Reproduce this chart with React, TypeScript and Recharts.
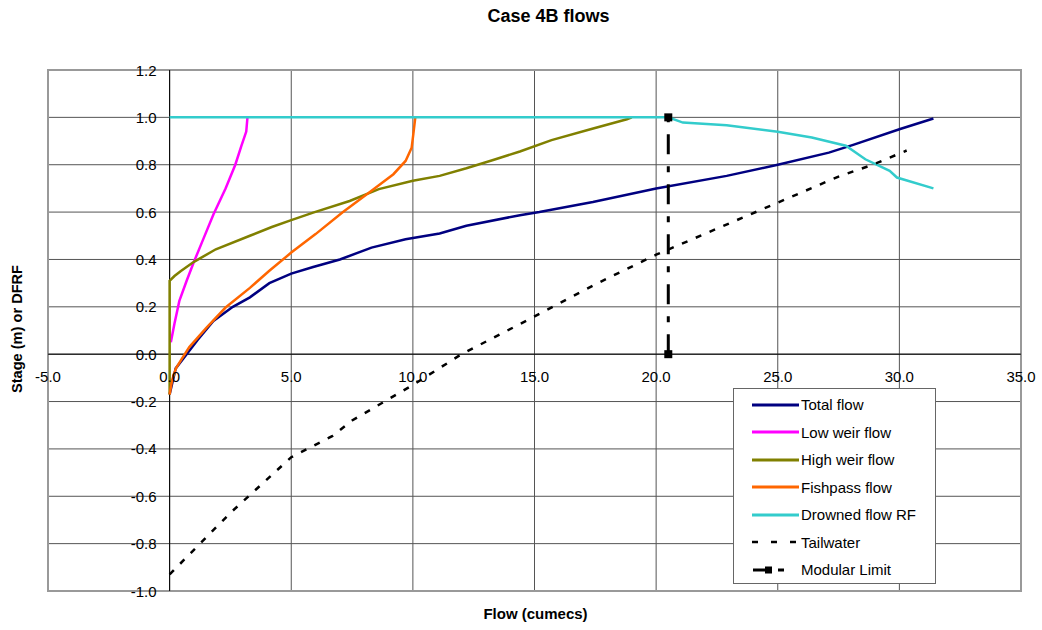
import React from 'react';
import {
  LineChart,
  Line,
  XAxis,
  YAxis,
  CartesianGrid,
  ReferenceLine,
  ReferenceArea,
  Legend,
} from 'recharts';

interface Pt {
  x: number;
  y: number;
}

const pts = (arr: number[][]): Pt[] => arr.map(([x, y]) => ({ x, y }));

const xTicks = [-5, 0, 5, 10, 15, 20, 25, 30, 35];
const yTicks = [-1.0, -0.8, -0.6, -0.4, -0.2, 0.0, 0.2, 0.4, 0.6, 0.8, 1.0, 1.2];

const totalFlow = pts([
  [0, -0.17], [0.25, -0.06], [0.85, 0.02], [1.15, 0.06], [1.8, 0.14], [2.6, 0.2],
  [3.3, 0.24], [4.1, 0.3], [5.0, 0.34], [5.9, 0.368], [7.0, 0.4], [8.3, 0.45],
  [9.7, 0.485], [11.1, 0.51], [12.2, 0.542], [14.4, 0.587], [15.2, 0.6],
  [17.4, 0.643], [20.0, 0.7], [22.9, 0.753], [25.0, 0.8], [27.1, 0.851],
  [28.1, 0.884], [30.0, 0.95], [31.4, 0.995],
]);

const lowWeir = pts([
  [0.05, 0.05], [0.2, 0.13], [0.4, 0.225], [0.7, 0.31], [1.0, 0.39], [1.4, 0.49],
  [1.8, 0.59], [2.3, 0.7], [2.7, 0.8], [2.95, 0.88], [3.15, 0.94], [3.2, 1.0],
]);

const highWeir = pts([
  [0, -0.17], [0, 0.31], [0.2, 0.33], [0.45, 0.35], [1.0, 0.39], [1.9, 0.443],
  [3.3, 0.5], [4.2, 0.537], [5.0, 0.566], [5.9, 0.598], [7.4, 0.647], [8.6, 0.697],
  [10.0, 0.732], [11.1, 0.753], [12.2, 0.785], [13.3, 0.82], [14.4, 0.856],
  [15.7, 0.904], [17.3, 0.95], [18.8, 0.992], [19.0, 1.0],
]);

const fishpass = pts([
  [0, -0.17], [0.1, -0.11], [0.26, -0.06], [0.5, -0.02], [0.81, 0.03], [1.5, 0.11],
  [2.3, 0.197], [3.3, 0.28], [4.1, 0.352], [5.0, 0.429], [6.0, 0.507], [7.1, 0.598],
  [8.3, 0.69], [9.2, 0.76], [9.7, 0.816], [9.95, 0.872], [10.02, 0.93], [10.1, 1.0],
]);

const drowned = pts([
  [0, 1.0], [20.5, 1.0], [21.1, 0.978], [22.9, 0.967], [25.0, 0.939], [26.4, 0.915],
  [27.8, 0.88], [28.6, 0.823], [29.6, 0.774], [29.9, 0.746], [31.4, 0.7],
]);

const tailwater = pts([
  [0, -0.93], [2.5, -0.67], [5.0, -0.435], [6.7, -0.345], [7.5, -0.28], [10.0, -0.13],
  [12.0, 0.0], [14.4, 0.127], [17.6, 0.3], [20.0, 0.42], [22.5, 0.53], [25.0, 0.64],
  [27.5, 0.75], [28.9, 0.8], [30.3, 0.86],
]);

const modularLimit = pts([[20.5, 0], [20.5, 1.0]]);

const FONT = '"Liberation Sans", Arial, sans-serif';

// plot geometry (px)
const W = 1042;
const H = 630;
const PL = 48;
const PT = 70;
const PW = 973;
const PH = 521;
const AX = 30; // space given to the (invisible) axes
const Y0 = PT + (PH * 1.2) / 2.2;
const X0 = PL + (PW * 5) / 40;

const legendItems = [
  { name: 'Total flow', color: '#000080', dash: '' },
  { name: 'Low weir flow', color: '#FF00FF', dash: '' },
  { name: 'High weir flow', color: '#808000', dash: '' },
  { name: 'Fishpass flow', color: '#FF6600', dash: '' },
  { name: 'Drowned flow RF', color: '#33CCCC', dash: '' },
  { name: 'Tailwater', color: '#000000', dash: 'tail' },
  { name: 'Modular Limit', color: '#000000', dash: 'mod' },
];

const LegendBox = () => (
  <div
    style={{
      width: 201,
      height: 192,
      border: '1px solid #666',
      background: '#fff',
      fontFamily: FONT,
      fontSize: 15,
      color: '#000',
      paddingTop: 2,
      boxSizing: 'content-box',
    }}
  >
    {legendItems.map((it) => (
      <div key={it.name} style={{ display: 'flex', alignItems: 'center', height: 27.5 }}>
        <svg width={66} height={10}>
          {it.dash === 'tail' ? (
            <line x1={18} y1={5} x2={64} y2={5} stroke="#000" strokeWidth={2.5} strokeDasharray="6 13" />
          ) : it.dash === 'mod' ? (
            <g>
              <line x1={19} y1={5} x2={34} y2={5} stroke="#000" strokeWidth={3} />
              <rect x={31} y={1.5} width={7} height={7} fill="#000" />
              <line x1={44} y1={5} x2={50} y2={5} stroke="#000" strokeWidth={3} />
            </g>
          ) : (
            <line x1={18} y1={5} x2={65} y2={5} stroke={it.color} strokeWidth={3} />
          )}
        </svg>
        <span style={{ marginLeft: 1 }}>{it.name}</span>
      </div>
    ))}
  </div>
);

const XTick = (props: any) => {
  const { x, payload } = props;
  return (
    <text x={x} y={Y0 + 22} textAnchor="middle" dominantBaseline="central" fontFamily={FONT} fontSize={15} fill="#000">
      {Number(payload.value).toFixed(1)}
    </text>
  );
};

const YTick = (props: any) => {
  const { y, payload } = props;
  return (
    <text x={X0 - 13} y={y} textAnchor="end" dominantBaseline="central" fontFamily={FONT} fontSize={15} fill="#000">
      {Number(payload.value).toFixed(1)}
    </text>
  );
};

const SquareDot = (props: any) => {
  const { cx, cy } = props;
  if (cx == null || cy == null) return null;
  return <rect x={cx - 4} y={cy - 4} width={8} height={8} fill="#000" />;
};

export default function App() {
  return (
    <div style={{ position: 'absolute', left: 0, top: 0, width: W, height: H, background: '#fff' }}>
      <div
        style={{
          position: 'absolute', left: 0, top: 6, width: 1097, textAlign: 'center',
          fontFamily: FONT, fontWeight: 'bold', fontSize: 18,
        }}
      >
        Case 4B flows
      </div>
      <div
        style={{
          position: 'absolute', left: 0, top: 605, width: 1071, textAlign: 'center',
          fontFamily: FONT, fontWeight: 'bold', fontSize: 15,
        }}
      >
        Flow (cumecs)
      </div>
      <div style={{ position: 'absolute', left: 17, top: 331, width: 0, height: 0 }}>
        <div
          style={{
            position: 'absolute', left: -100, top: -10, width: 200, textAlign: 'center',
            transform: 'rotate(-90deg)', fontFamily: FONT, fontWeight: 'bold', fontSize: 14.6,
            whiteSpace: 'nowrap',
          }}
        >
          Stage (m) or DFRF
        </div>
      </div>
      <LineChart
        width={W}
        height={H}
        margin={{ top: PT, left: PL - AX, right: W - PL - PW, bottom: H - PT - PH - AX }}
        style={{ position: 'absolute', left: 0, top: 0 }}
      >
        <CartesianGrid stroke="#555" strokeWidth={1} horizontalValues={yTicks} verticalValues={xTicks} />
        <XAxis
          type="number"
          dataKey="x"
          domain={[-5, 35]}
          ticks={xTicks}
          allowDataOverflow
          axisLine={false}
          tickLine={false}
          height={AX}
          tick={XTick}
          interval={0}
        />
        <YAxis
          type="number"
          dataKey="y"
          domain={[-1, 1.2]}
          ticks={yTicks}
          allowDataOverflow
          axisLine={false}
          tickLine={false}
          width={AX}
          tick={YTick}
          interval={0}
        />
        <ReferenceArea x1={-5} x2={35} y1={-1} y2={1.2} fill="none" fillOpacity={0} stroke="#999" strokeWidth={2} />
        <ReferenceLine x={0} stroke="#000" strokeWidth={1} />
        <ReferenceLine y={0} stroke="#000" strokeWidth={1} />
        <Legend
          layout="horizontal"
          verticalAlign="middle"
          align="center"
          content={<LegendBox />}
          wrapperStyle={{ position: 'absolute', left: 733, top: 388, width: 203, height: 194 }}
        />
        <Line data={totalFlow} dataKey="y" name="Total flow" stroke="#000080" strokeWidth={2.5} dot={false} isAnimationActive={false} />
        <Line data={lowWeir} dataKey="y" name="Low weir flow" stroke="#FF00FF" strokeWidth={2.5} dot={false} isAnimationActive={false} />
        <Line data={highWeir} dataKey="y" name="High weir flow" stroke="#808000" strokeWidth={2.5} dot={false} isAnimationActive={false} />
        <Line data={fishpass} dataKey="y" name="Fishpass flow" stroke="#FF6600" strokeWidth={2.5} dot={false} isAnimationActive={false} />
        <Line data={drowned} dataKey="y" name="Drowned flow RF" stroke="#33CCCC" strokeWidth={2.5} dot={false} isAnimationActive={false} />
        <Line data={tailwater} dataKey="y" name="Tailwater" stroke="#000" strokeWidth={2.5} strokeDasharray="6 9" dot={false} isAnimationActive={false} />
        <Line data={modularLimit} dataKey="y" name="Modular Limit" stroke="#000" strokeWidth={3} strokeDasharray="20 12 6 12" dot={<SquareDot />} isAnimationActive={false} />
      </LineChart>
    </div>
  );
}
